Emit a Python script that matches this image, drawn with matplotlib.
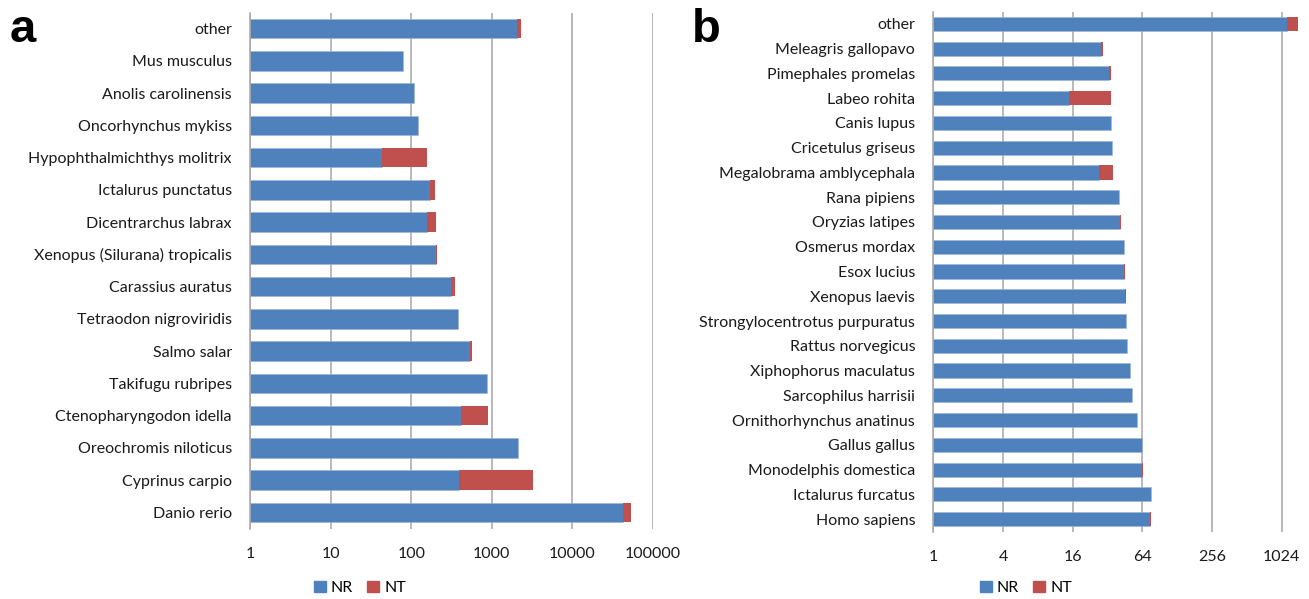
import matplotlib
matplotlib.use("Agg")
import matplotlib.pyplot as plt
from matplotlib.patches import Patch
from matplotlib.ticker import FixedLocator, NullLocator

plt.rcParams['font.family'] = ['Lato', 'DejaVu Sans']

# Panel a: species (top to bottom) with NR and NT counts
species_a = ["other", "Mus musculus", "Anolis carolinensis", "Oncorhynchus mykiss",
             "Hypophthalmichthys molitrix", "Ictalurus punctatus", "Dicentrarchus labrax",
             "Xenopus (Silurana) tropicalis", "Carassius auratus", "Tetraodon nigroviridis",
             "Salmo salar", "Takifugu rubripes", "Ctenopharyngodon idella",
             "Oreochromis niloticus", "Cyprinus carpio", "Danio rerio"]
nr_a = [2040, 77, 108, 119, 42, 170, 157, 203, 312, 381, 540, 865, 418, 2110, 388, 42500]
nt_a = [260, 1, 0, 1, 112, 27, 44, 4, 37, 0, 20, 0, 487, 0, 2857, 10300]
ticks_a = [1, 10, 100, 1000, 10000, 100000]

# Panel b
species_b = ["other", "Meleagris gallopavo", "Pimephales promelas", "Labeo rohita",
             "Canis lupus", "Cricetulus griseus", "Megalobrama amblycephala",
             "Rana pipiens", "Oryzias latipes", "Osmerus mordax", "Esox lucius",
             "Xenopus laevis", "Strongylocentrotus purpuratus", "Rattus norvegicus",
             "Xiphophorus maculatus", "Sarcophilus harrisii", "Ornithorhynchus anatinus",
             "Gallus gallus", "Monodelphis domestica", "Ictalurus furcatus", "Homo sapiens"]
nr_b = [1143, 27, 32, 14, 33, 34, 26, 39, 40, 43, 43, 44, 45, 46, 49, 51, 56, 62, 63, 75, 73]
nt_b = [262, 1, 1, 19, 0, 0, 9, 0, 1, 0, 1, 1, 0, 0, 0, 0, 0, 1, 1, 0, 2]
ticks_b = [1, 4, 16, 64, 256, 1024]

BLUE = "#4F81BD"
RED = "#C0504D"
GRID = "#A6A6A6"

W, H = 1309, 599
fig = plt.figure(figsize=(W / 100, H / 100), dpi=100)


def panel(rect, names, nr, nt, ticks, xmax, base, bar_h, letter, letter_x, legend_x):
    ax = fig.add_axes(rect)
    y = list(range(len(names)))
    ax.barh(y, nr, left=1, height=bar_h, color=BLUE, edgecolor="#9DB5DA", linewidth=0.4)
    lefts = [1 + v for v in nr]
    ax.barh(y, nt, left=lefts, height=bar_h, color=RED, edgecolor="none", linewidth=0)
    ax.set_xscale("log", base=base)
    ax.set_xlim(1, xmax)
    ax.set_ylim(len(names) - 0.5, -0.5)
    ax.xaxis.set_major_locator(FixedLocator(ticks))
    ax.xaxis.set_minor_locator(NullLocator())
    ax.set_xticklabels([str(t) for t in ticks])
    ax.set_yticks(y)
    ax.set_yticklabels(names)
    ax.tick_params(axis="x", length=0, pad=13, labelsize=11.5, colors="#1a1a1a")
    ax.tick_params(axis="y", length=0, pad=13, labelsize=11.5, colors="#1a1a1a")
    ax.grid(axis="x", color=GRID, linewidth=1.1)
    ax.set_axisbelow(True)
    for s in ["top", "right", "bottom"]:
        ax.spines[s].set_visible(False)
    ax.spines["left"].set_color(GRID)
    ax.spines["left"].set_linewidth(1.1)
    fig.text(letter_x, 1 - 42.5 / H, letter, fontsize=34, fontweight="bold",
             family="Liberation Sans", ha="left", va="baseline")
    handles = [Patch(color=BLUE, label="NR"), Patch(color=RED, label="NT")]
    fig.legend(handles=handles, loc="center", bbox_to_anchor=(legend_x, 1 - 588 / H),
               ncol=2, frameon=False, handlelength=0.75, handleheight=0.75,
               handletextpad=0.3, columnspacing=0.9, fontsize=11.5)
    return ax


top_a, bottom_a = 1 - 12.5 / H, 1 - 528.5 / H
top_b, bottom_b = 1 - 11.5 / H, 1 - 531.5 / H
panel([250 / W, bottom_a, (653 - 250) / W, top_a - bottom_a], species_a, nr_a, nt_a,
      ticks_a, 1e5, 10, 0.6, "a", 10 / W, 360 / W)
panel([933.3 / W, bottom_b, (1300 - 933.3) / W, top_b - bottom_b], species_b, nr_b, nt_b,
      ticks_b, 1470, 2, 0.57, "b", 692 / W, 1026 / W)

fig.savefig("out.png", dpi=100)
